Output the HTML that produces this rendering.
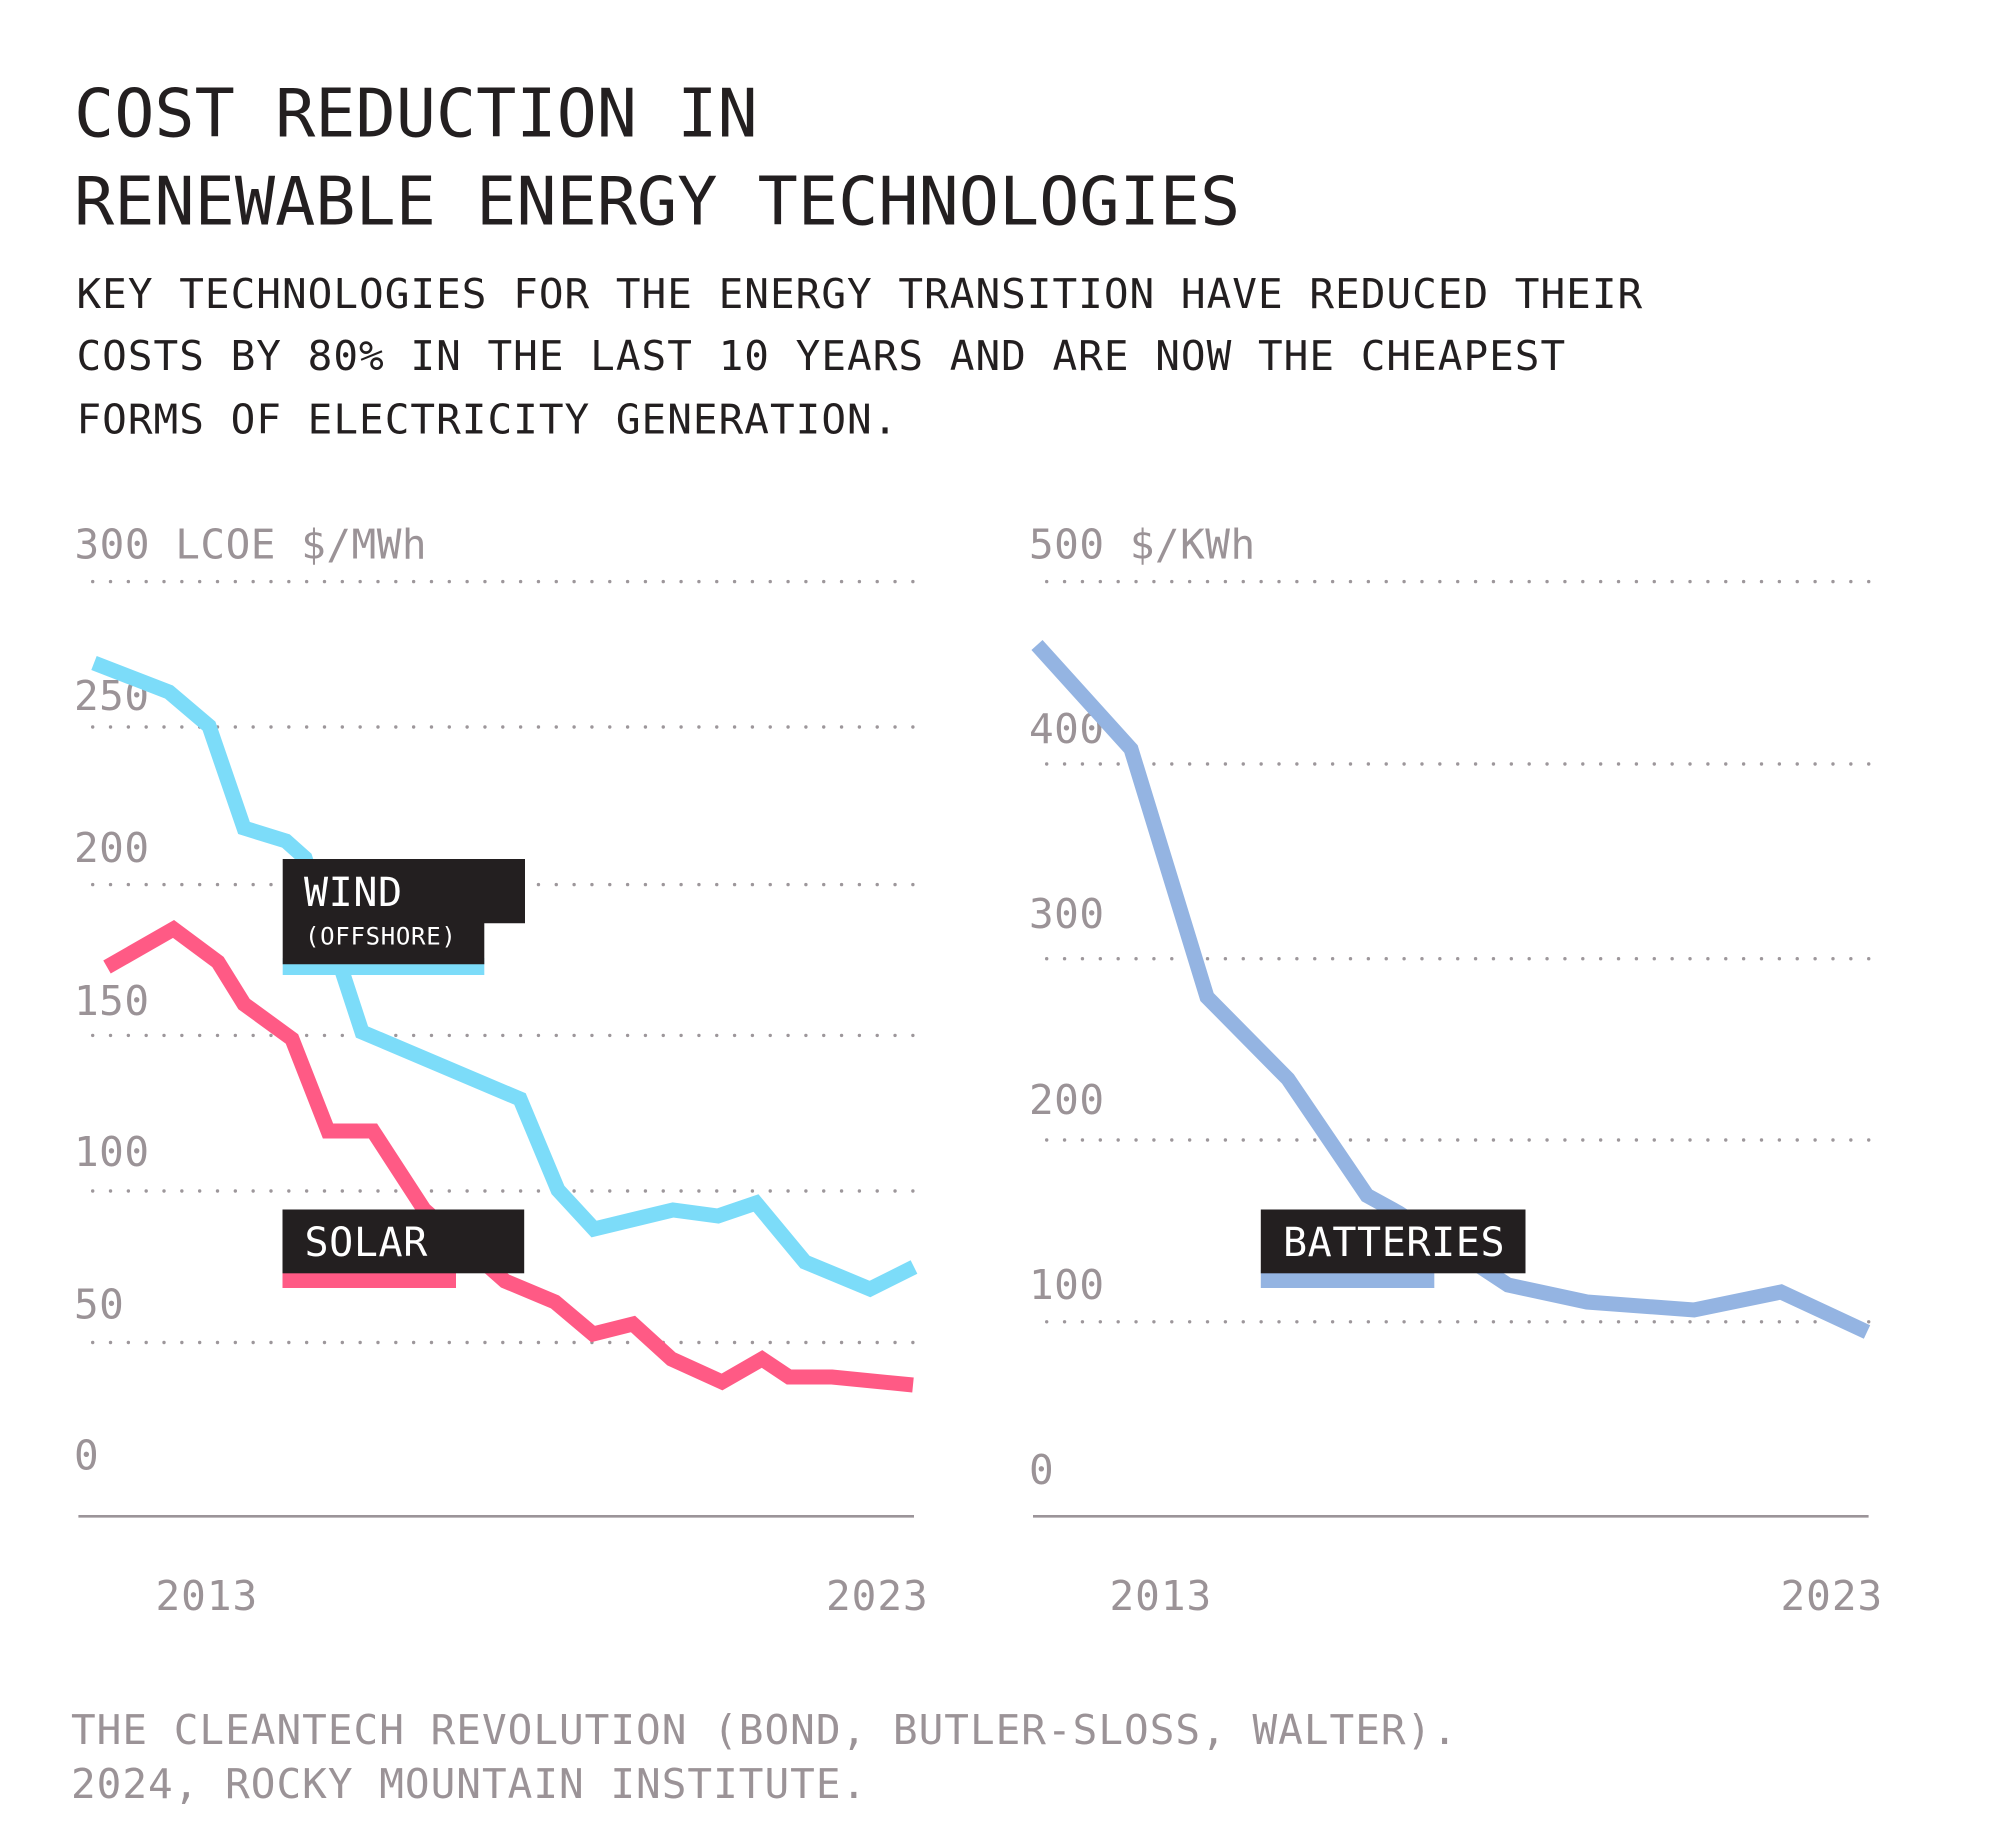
<!DOCTYPE html>
<html>
<head>
<meta charset="utf-8">
<style>
  html,body{margin:0;padding:0;background:#ffffff;}
  svg{display:block;}
  text{font-family:"DejaVu Sans Mono","Liberation Mono",monospace;}
</style>
</head>
<body>
<svg width="2001" height="1846" viewBox="0 0 2001 1846" xmlns="http://www.w3.org/2000/svg">
  <rect x="0" y="0" width="2001" height="1846" fill="#ffffff"/>

  <!-- Title -->
  <text x="74" y="136.5" font-size="66.8" fill="#231f20">COST REDUCTION IN</text>
  <text x="74" y="224.5" font-size="66.8" fill="#231f20">RENEWABLE ENERGY TECHNOLOGIES</text>

  <!-- Subtitle -->
  <g font-size="41" fill="#231f20" letter-spacing="1">
    <text x="76.5" y="308">KEY TECHNOLOGIES FOR THE ENERGY TRANSITION HAVE REDUCED THEIR</text>
    <text x="76.5" y="370">COSTS BY 80% IN THE LAST 10 YEARS AND ARE NOW THE CHEAPEST</text>
    <text x="76.5" y="433.5">FORMS OF ELECTRICITY GENERATION.</text>
  </g>

  <!-- Left chart gridlines -->
  <g stroke="#9d979b" stroke-width="3.4" stroke-linecap="round" stroke-dasharray="0 17.83" fill="none">
    <line x1="92.7" y1="581.6" x2="914" y2="581.6"/>
    <line x1="92.7" y1="727" x2="914" y2="727"/>
    <line x1="92.7" y1="884.6" x2="914" y2="884.6"/>
    <line x1="92.7" y1="1035.4" x2="914" y2="1035.4"/>
    <line x1="92.7" y1="1191" x2="914" y2="1191"/>
    <line x1="92.7" y1="1342.5" x2="914" y2="1342.5"/>
  </g>
  <!-- Right chart gridlines -->
  <g stroke="#9d979b" stroke-width="3.4" stroke-linecap="round" stroke-dasharray="0 17.87" fill="none">
    <line x1="1046.7" y1="581.6" x2="1869" y2="581.6"/>
    <line x1="1046.7" y1="764" x2="1869" y2="764"/>
    <line x1="1046.7" y1="958.7" x2="1869" y2="958.7"/>
    <line x1="1046.7" y1="1140" x2="1869" y2="1140"/>
    <line x1="1046.7" y1="1321.8" x2="1869" y2="1321.8"/>
  </g>

  <!-- Axis labels left -->
  <g font-size="41" fill="#9b9397" letter-spacing="0.5">
    <text x="74.5" y="558.7">300 LCOE $/MWh</text>
    <text x="74" y="710">250</text>
    <text x="74" y="862">200</text>
    <text x="74" y="1015">150</text>
    <text x="74" y="1166">100</text>
    <text x="74" y="1318.6">50</text>
    <text x="74" y="1469.7">0</text>
  </g>
  <!-- Axis labels right -->
  <g font-size="41" fill="#9b9397" letter-spacing="0.5">
    <text x="1029" y="558.7">500 $/KWh</text>
    <text x="1029" y="743">400</text>
    <text x="1029" y="928">300</text>
    <text x="1029" y="1114">200</text>
    <text x="1029" y="1299">100</text>
    <text x="1029" y="1484">0</text>
  </g>

  <!-- Baselines -->
  <line x1="78.4" y1="1516.3" x2="914" y2="1516.3" stroke="#9b9499" stroke-width="2.6"/>
  <line x1="1033" y1="1516.3" x2="1868.6" y2="1516.3" stroke="#9b9499" stroke-width="2.6"/>

  <!-- X labels -->
  <g font-size="41" fill="#9b9397" letter-spacing="1">
    <text x="155.5" y="1610">2013</text>
    <text x="826" y="1610">2023</text>
    <text x="1109.5" y="1610">2013</text>
    <text x="1780.5" y="1610">2023</text>
  </g>

  <!-- Series: wind -->
  <polyline fill="none" stroke="#7cdcf9" stroke-width="15" stroke-linejoin="miter" stroke-linecap="butt"
    points="94,663 169,692 209,726 244,828 286,841 305,858 362,1032 520,1099 558,1190 594,1229 673,1210 718,1216 756,1203 805,1262 870,1289 914,1267"/>
  <!-- Series: solar -->
  <polyline fill="none" stroke="#ff5a85" stroke-width="15" stroke-linejoin="miter" stroke-linecap="butt"
    points="107,967 173.5,929 218,962 244,1004 292,1039 328,1131 373,1131 424,1209.5 505,1281 555,1302 593,1334 633,1324 671.5,1359 722,1382 762,1359 789,1377 832,1377 913,1385"/>
  <!-- Series: batteries -->
  <polyline fill="none" stroke="#94b4e2" stroke-width="15" stroke-linejoin="miter" stroke-linecap="butt"
    points="1037,645 1131,749 1207,997 1288,1079 1367,1195.5 1399,1213 1508,1285 1587,1302 1694,1310 1781,1292 1867,1332"/>

  <!-- Wind label -->
  <rect x="282.7" y="958" width="201.6" height="17" fill="#7cdcf9"/>
  <path d="M282.7,859 H525 V923.3 H484.3 V964.3 H282.7 Z" fill="#231f20"/>
  <text x="304" y="906" font-size="40" fill="#ffffff" letter-spacing="0.6">WIND</text>
  <text x="305" y="944.3" font-size="24" fill="#ffffff" letter-spacing="0.7">(OFFSHORE)</text>

  <!-- Solar label -->
  <rect x="282.5" y="1270" width="173.5" height="18" fill="#ff5a85"/>
  <rect x="282.5" y="1209.5" width="241.7" height="63.8" fill="#231f20"/>
  <text x="304.5" y="1256" font-size="40" fill="#ffffff" letter-spacing="0.6">SOLAR</text>

  <!-- Batteries label -->
  <rect x="1260.8" y="1270" width="173.5" height="18" fill="#94b4e2"/>
  <rect x="1260.8" y="1209.5" width="264.7" height="63.8" fill="#231f20"/>
  <text x="1283" y="1256" font-size="40" fill="#ffffff" letter-spacing="0.6">BATTERIES</text>

  <!-- Footer -->
  <g font-size="41" fill="#9b9397" letter-spacing="1">
    <text x="71" y="1744">THE CLEANTECH REVOLUTION (BOND, BUTLER-SLOSS, WALTER).</text>
    <text x="71" y="1798">2024, ROCKY MOUNTAIN INSTITUTE.</text>
  </g>
</svg>
</body>
</html>
